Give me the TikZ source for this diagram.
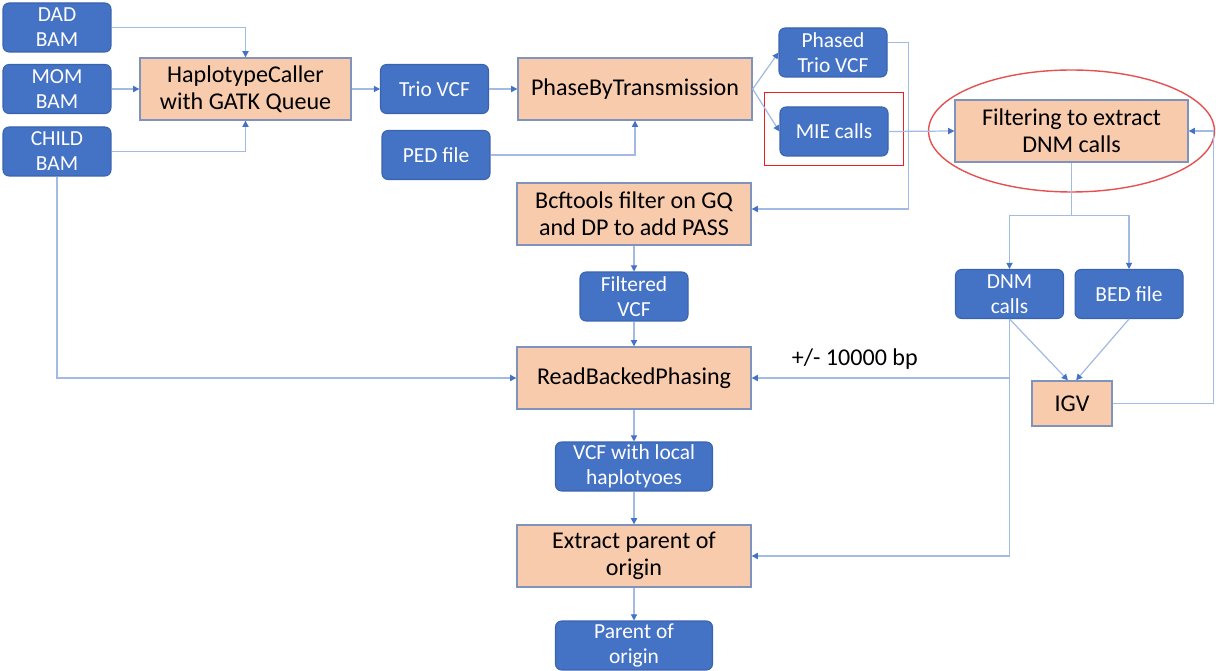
\documentclass[tikz,border=0pt]{standalone}
\usepackage{fontspec}
\setmainfont{Carlito}
\usetikzlibrary{calc, positioning, arrows.meta}
\definecolor{boxblue}{HTML}{4472C4}
\definecolor{boxline}{HTML}{3A63AE}
\definecolor{procfill}{HTML}{F8CBAD}
\definecolor{procline}{HTML}{7F93BC}
\definecolor{edgeblue}{HTML}{A3BBE3}
\definecolor{tipblue}{HTML}{4472C4}
\definecolor{markred}{HTML}{EE1C25}
\definecolor{ringred}{HTML}{E65050}

\begin{document}
\begin{tikzpicture}[
  x=0.02cm, y=-0.02cm,
  dbox/.style={draw=boxline, line width=0.6pt, fill=boxblue, rounded corners=0.12cm, text=white, align=center,
    minimum width=2.16cm, minimum height=0.98cm, inner sep=1pt, font=\fontsize{12.2}{14.2}\selectfont},
  pbox/.style={draw=procline, line width=0.8pt, fill=procfill, align=center,
    minimum width=4.68cm, minimum height=1.24cm, inner sep=1pt, font=\fontsize{13.7}{15.4}\selectfont},
  edge/.style={draw=edgeblue, line width=0.7pt, -{Triangle[length=3.5pt, width=3.5pt, color=tipblue]}},
  hilite/.style={draw=markred, line width=1.1pt},
  ring/.style={draw=ringred, line width=0.8pt},
  lab/.style={font=\fontsize{13.7}{15.4}\selectfont}
]
\useasboundingbox (0,0) rectangle (1216,671);

\node[dbox] (dad)   at (57,27.5)  {DAD\\BAM};
\node[dbox] (mom)   at (57,89)    {MOM\\BAM};
\node[dbox] (child) at (57,151.5) {CHILD\\BAM};

\node[pbox, minimum width=4.22cm] (hc) at (245.5,89) {HaplotypeCaller\\with GATK Queue};
\node[dbox] (trio) at (434.5,89) {Trio VCF};
\node[dbox] (ped)  at (436,155)  {PED file};
\node[pbox] (pbt)  at (635,89)   {PhaseByTransmission};

\node[dbox] (phased) at (833,52.5)  {Phased\\Trio VCF};
\node[dbox] (mie)    at (834,131.5) {MIE calls};
\node[pbox, minimum width=4.66cm] (filt) at (1071.5,131) {Filtering to extract\\DNM calls};

\node[pbox] (bcf)  at (634,214)   {Bcftools filter on GQ\\and DP to add PASS};
\node[dbox] (fvcf) at (634,296.5) {Filtered\\VCF};
\node[pbox] (rbp)  at (634,378)   {ReadBackedPhasing};
\node[dbox, minimum width=3.14cm] (loc) at (634,466.5) {VCF with local\\haplotyoes};
\node[pbox] (ext)  at (634,556)   {Extract parent of\\origin};
\node[dbox, minimum width=3.14cm] (poo) at (634,645.5) {Parent of\\origin};

\node[dbox] (dnm) at (1009.5,294) {DNM\\calls};
\node[dbox] (bed) at (1129,294)   {BED file};
\node[pbox, minimum width=1.6cm, minimum height=0.9cm] (igv) at (1072,403.5) {IGV};

\draw[hilite] ($(mie.south west)+(-15,9)$) rectangle ($(mie.north east)+(15,-14)$);
\draw[ring] (filt.center) ellipse [x radius=2.86cm, y radius=1.22cm];

\draw[edge] (dad.east) -| (hc.north);
\draw[edge] (mom.east) -- (hc.west);
\draw[edge] (child.east) -| (hc.south);
\draw[edge] (child.south) |- (rbp.west);
\draw[edge] (hc.east) -- (trio.west);
\draw[edge] (trio.east) -- (pbt.west);
\draw[edge] (ped.east) -| (pbt.south);
\draw[edge] (pbt.east) -- (phased.west);
\draw[edge] (pbt.east) -- (mie.west);
\draw[edge] (phased.10) -- ++(21,0) |- ($(bcf.east)+(0,-5)$);
\draw[edge] (mie.east) -- (filt.west);

\coordinate (fork) at ($(filt.south)+(0,53)$);
\draw[edge] (filt.south) -- (fork) -| (dnm.north);
\draw[edge] (fork) -| (bed.north);
\draw[edge] (dnm.south) -- (igv.100);
\draw[edge] (bed.south) -- (igv.80);
\draw[edge] (igv.east) -- ++(101,0) |- (filt.east);

\coordinate (tap) at (dnm.south |- rbp.east);
\draw[edge] (dnm.south) |- (ext.east);
\draw[edge] (tap) -- node[lab, pos=0.6, above=1pt] {+/- 10000 bp} (rbp.east);

\draw[edge] (bcf.south) -- (fvcf.north);
\draw[edge] (fvcf.south) -- (rbp.north);
\draw[edge] (rbp.south) -- (loc.north);
\draw[edge] (loc.south) -- (ext.north);
\draw[edge] (ext.south) -- (poo.north);

\end{tikzpicture}
\end{document}
